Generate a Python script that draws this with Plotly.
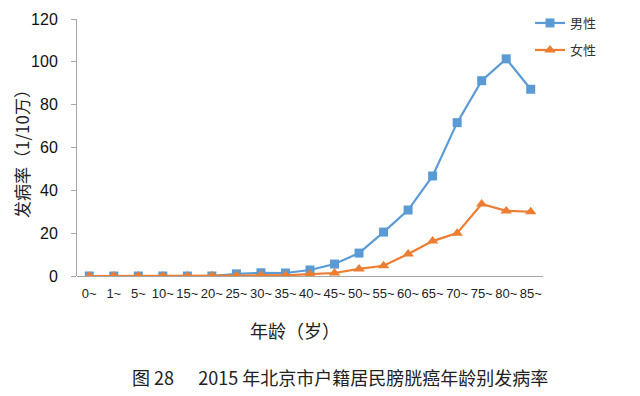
import plotly.graph_objects as go

categories = ["0~", "1~", "5~", "10~", "15~", "20~", "25~", "30~", "35~", "40~",
              "45~", "50~", "55~", "60~", "65~", "70~", "75~", "80~", "85~"]
male = [0, 0, 0, 0, 0, 0, 1.0, 1.5, 1.4, 2.8, 5.6, 10.7, 20.5, 30.8, 46.7, 71.6, 91.2, 101.4, 87.2]
female = [0, 0, 0, 0, 0, 0.1, 0.2, 0.4, 0.3, 0.9, 1.4, 3.3, 4.8, 10.3, 16.3, 20.0, 33.6, 30.4, 30.0]
y_ticks = [0, 20, 40, 60, 80, 100, 120]

BLUE = "#5B9BD5"
ORANGE = "#ED7D31"
CJK = "Noto Sans CJK SC"
W, H = 640, 396
OFF = 8  # page body offset


def px_x(v):
    return (v - OFF) / W


def px_y(v):
    return 1 - (v - OFF) / H


fig = go.Figure()
fig.add_trace(go.Scatter(x=categories, y=male, name="男性", mode="lines+markers",
                         line=dict(color=BLUE, width=2.2),
                         marker=dict(symbol="square", size=9, color=BLUE),
                         legend="legend"))
fig.add_trace(go.Scatter(x=categories, y=female, name="女性", mode="lines+markers",
                         line=dict(color=ORANGE, width=2.2),
                         marker=dict(symbol="triangle-up", size=10, color=ORANGE),
                         legend="legend2"))

fig.update_layout(
    width=W, height=H,
    margin=dict(l=0, r=0, t=0, b=0),
    paper_bgcolor="white", plot_bgcolor="white",
    showlegend=True,
    legend=dict(x=px_x(530), y=1.0, xanchor="left", yanchor="top",
                font=dict(family=CJK, size=13, color="#333"),
                bgcolor="rgba(0,0,0,0)", itemwidth=30),
    legend2=dict(x=px_x(530), y=px_y(35), xanchor="left", yanchor="top",
                 font=dict(family=CJK, size=13, color="#333"),
                 bgcolor="rgba(0,0,0,0)", itemwidth=30),
    xaxis=dict(type="category", range=[-0.5, 18.5], showgrid=False,
               domain=[px_x(77), px_x(543)], automargin=False,
               showline=False, zeroline=False, ticks="",
               ticklabelstandoff=8,
               tickfont=dict(family="Liberation Sans", size=13, color="#222"),
               tickangle=0),
    yaxis=dict(range=[0, 120], tickvals=y_ticks, showgrid=False,
               domain=[px_y(276), px_y(19)], automargin=False,
               showline=True, linecolor="#A6A6A6", linewidth=1,
               ticks="outside", ticklen=5, tickcolor="#A6A6A6",
               ticklabelstandoff=10,
               zeroline=True, zerolinecolor="#A6A6A6", zerolinewidth=1,
               tickfont=dict(family="Liberation Sans", size=16, color="#111")),
    annotations=[
        dict(text="年龄（岁）", x=px_x(295), y=px_y(330), xref="paper", yref="paper",
             xanchor="center", yanchor="middle",
             showarrow=False, font=dict(family=CJK, size=18, color="#222")),
        dict(text="图 28      2015 年北京市户籍居民膀胱癌年龄别发病率", x=px_x(340), y=px_y(377),
             xref="paper", yref="paper", showarrow=False,
             xanchor="center", yanchor="middle",
             font=dict(family=CJK, size=18, color="#222")),
        dict(text="发病率（1/10万）", x=px_x(21), y=px_y(150), xref="paper", yref="paper",
             showarrow=False, textangle=-90, xanchor="center", yanchor="middle",
             font=dict(family=CJK, size=17, color="#222")),
    ],
)

fig.write_html("out.html")
